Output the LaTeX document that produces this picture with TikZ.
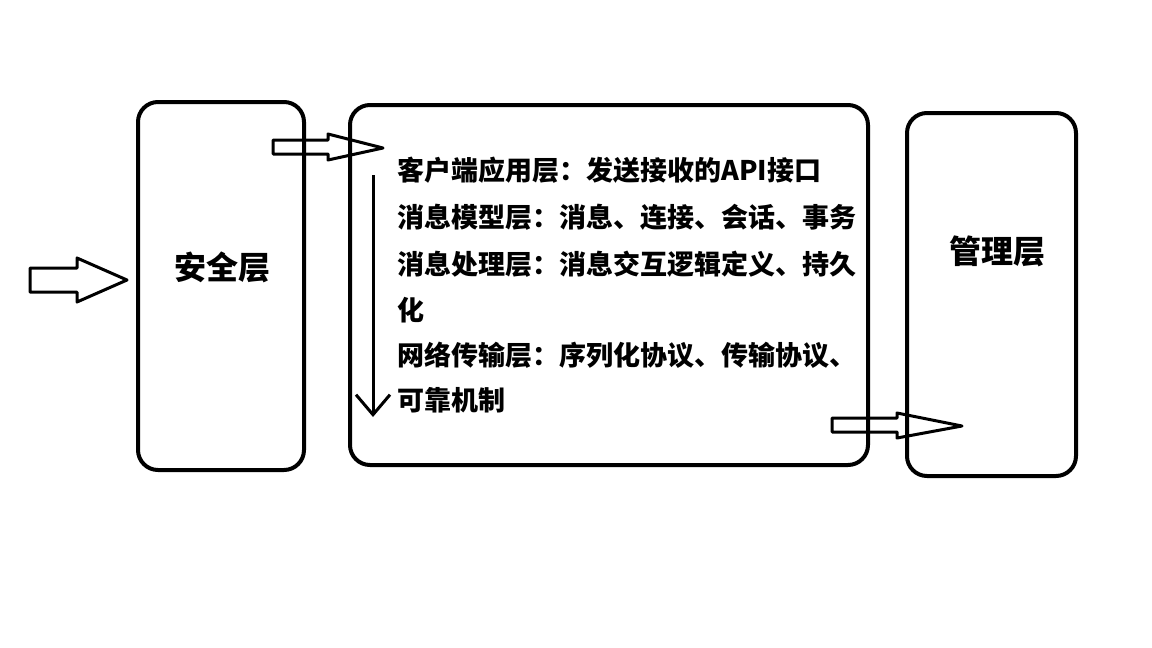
\documentclass[tikz,border=0pt]{standalone}
\usepackage{fontspec}
\newfontfamily\cjk{Noto Sans CJK SC}
\usetikzlibrary{arrows.meta}
\begin{document}
\begin{tikzpicture}[x=1pt,y=-1pt,
  layer/.style={draw, line width=4pt, rounded corners=20pt, inner sep=0pt},
  blockarrow/.style={draw, line width=3pt, line join=round},
  item/.style={anchor=base west, inner sep=0pt, font=\cjk\bfseries\fontsize{27}{27}\selectfont},
  title/.style={inner sep=0pt, font=\cjk\bfseries\fontsize{32}{32}\selectfont}]
\useasboundingbox[fill=white] (0,0) rectangle (1152,648);

% the three layers
\node[layer, minimum width=166pt, minimum height=368pt] (sec) at (221,286) {};
\node[layer, minimum width=518pt, minimum height=360pt] (core) at (609,285) {};
\node[layer, minimum width=169pt, minimum height=363pt] (mgmt) at (991.5,294.5) {};

\node[title] (sectitle) at (222,267) {安全层};
\node[title] (mgmttitle) at (997,251) {管理层};

% stacked sub-layers inside the core
\node[item] (l1) at (397,180) {客户端应用层：发送接收的API接口};
\node[item] (l2) at (397,227) {消息模型层：消息、连接、会话、事务};
\node[item] (l3) at (397,274) {消息处理层：消息交互逻辑定义、持久};
\node[item] (l3b) at (397,320) {化};
\node[item] (l4) at (397,365) {网络传输层：序列化协议、传输协议、};
\node[item] (l4b) at (397,410) {可靠机制};

% hollow block arrows
\coordinate (inA) at (30,280);
\draw[blockarrow] (inA) ++(0,-12) -- ++(47,0) -- ++(0,-10) -- ++(50,22)
  -- ++(-50,22) -- ++(0,-10) -- ++(-47,0) -- cycle;

\coordinate (inB) at (273,147);
\draw[blockarrow] (inB) ++(0,-7) -- ++(55,0) -- ++(0,-6) -- ++(55,14)
  -- ++(-55,12) -- ++(0,-6) -- ++(-55,0) -- cycle;

\coordinate (inC) at (832,425);
\draw[blockarrow] (inC) ++(0,-7) -- ++(65,0) -- ++(0,-5) -- ++(65,13)
  -- ++(-65,12) -- ++(0,-6) -- ++(-65,0) -- cycle;

% top-down flow through the sub-layers
\coordinate (flowtop) at (373,175);
\coordinate (flowend) at (373,417);
\draw[line width=3pt, -{Straight Barb[length=20pt,width=34pt,line width=3pt]}] (flowtop) -- (flowend);
\end{tikzpicture}
\end{document}
